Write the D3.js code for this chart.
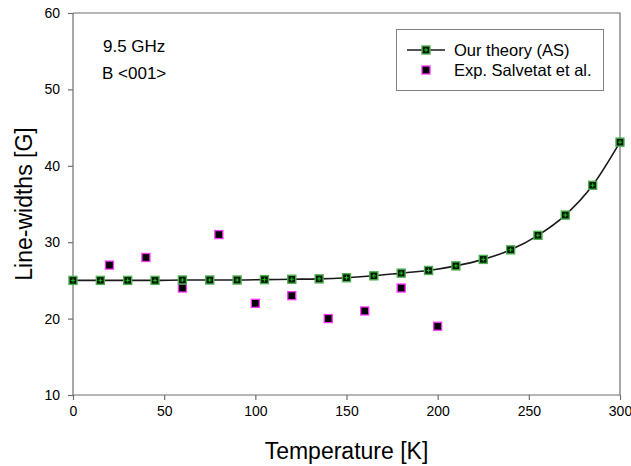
<!DOCTYPE html>
<html>
<head>
<meta charset="utf-8">
<script src="https://cdn.jsdelivr.net/npm/d3@7"></script>
<style>
  body { margin: 0; background: #fff; }
  text { font-family: Arial, "Liberation Sans", sans-serif; fill: #000; }
</style>
</head>
<body>
<svg id="chart"></svg>
<script>
'use strict'

// theory curve (temperature in K, line-width in G)
const theoryT = [0, 15, 30, 45, 60, 75, 90, 105, 120, 135, 150, 165, 180, 195, 210, 225, 240, 255, 270, 285, 300]
const theoryW = [25.0, 25.0, 25.0, 25.0, 25.05, 25.05, 25.05, 25.1, 25.15, 25.2, 25.35, 25.6, 25.95, 26.3, 26.9, 27.75, 29.0, 30.9, 33.55, 37.45, 43.1]

// experimental points (Salvetat et al.)
const expT = [20, 40, 60, 80, 100, 120, 140, 160, 180, 200]
const expW = [27, 28, 24, 31, 22, 23, 20, 21, 24, 19]

const xTicks = [0, 50, 100, 150, 200, 250, 300]
const yTicks = [10, 20, 30, 40, 50, 60]

const width = 631, height = 466
const margins = {top: 13, right: 11, bottom: 71, left: 73}
const chartW = width - margins.left - margins.right
const chartH = height - margins.top - margins.bottom
const axisColor = '#6e6e6e'

const svg = d3.select('#chart').attr('width', width).attr('height', height)
const g = svg.append('g').attr('transform', 'translate(' + margins.left + ',' + margins.top + ')')

const x = d3.scaleLinear().domain([0, 300]).range([0, chartW])
const y = d3.scaleLinear().domain([10, 60]).range([chartH, 0])

// frame (top and right)
g.append('path')
  .attr('d', 'M0,0H' + chartW + 'V' + chartH)
  .attr('fill', 'none').attr('stroke', axisColor).attr('stroke-width', 1.2)

// x axis
const xAxis = g.append('g')
  .attr('transform', 'translate(0,' + chartH + ')')
  .call(d3.axisBottom(x).tickValues(xTicks).tickSize(5).tickPadding(6))
xAxis.selectAll('path, line').attr('stroke', axisColor).attr('stroke-width', 1.2)
xAxis.select('.domain').attr('d', 'M0,0H' + chartW)
xAxis.selectAll('text').style('font-size', '14px').attr('fill', '#000')

// y axis
const yAxis = g.append('g')
  .call(d3.axisLeft(y).tickValues(yTicks).tickSize(5).tickPadding(8))
yAxis.selectAll('path, line').attr('stroke', axisColor).attr('stroke-width', 1.2)
yAxis.select('.domain').attr('d', 'M0,0V' + chartH)
yAxis.selectAll('text').style('font-size', '14px').attr('fill', '#000')

// axis labels
svg.append('text')
  .attr('x', margins.left + chartW / 2).attr('y', 459)
  .attr('text-anchor', 'middle').style('font-size', '23px')
  .text('Temperature [K]')
svg.append('text')
  .attr('transform', 'translate(32,204) rotate(-90)')
  .attr('text-anchor', 'middle').style('font-size', '23px')
  .text('Line-widths [G]')

// annotations
svg.append('text').attr('x', 103).attr('y', 52).style('font-size', '17px').text('9.5 GHz')
svg.append('text').attr('x', 102).attr('y', 79).style('font-size', '17px').text('B <001>')

// theory line
const theory = theoryT.map((t, i) => ({t: t, w: theoryW[i]}))
const line = d3.line().x(d => x(d.t)).y(d => y(d.w)).curve(d3.curveMonotoneX)
g.append('path').datum(theory)
  .attr('d', line).attr('fill', 'none').attr('stroke', '#1a1a1a').attr('stroke-width', 1.6)

// marker helpers
function theoryMarker(sel) {
  sel.append('rect').attr('x', -4).attr('y', -4).attr('width', 8).attr('height', 8)
    .attr('fill', '#031a03').attr('stroke', '#4caf50').attr('stroke-width', 1.4)
  sel.append('path').attr('d', 'M-2,0H2M0,-2V2').attr('stroke', '#1fbf1f').attr('stroke-width', 1)
}
function expMarker(sel) {
  sel.append('rect').attr('x', -4).attr('y', -4).attr('width', 8).attr('height', 8)
    .attr('fill', '#000').attr('stroke', '#ff33ff').attr('stroke-width', 1.3)
}

g.selectAll('.exp').data(expT.map((t, i) => ({t: t, w: expW[i]})))
  .enter().append('g').attr('class', 'exp')
  .attr('transform', d => 'translate(' + x(d.t) + ',' + y(d.w) + ')')
  .call(expMarker)

g.selectAll('.theo').data(theory)
  .enter().append('g').attr('class', 'theo')
  .attr('transform', d => 'translate(' + x(d.t) + ',' + y(d.w) + ')')
  .call(theoryMarker)

// legend
const legend = svg.append('g')
legend.append('rect').attr('x', 396.5).attr('y', 29.5).attr('width', 207).attr('height', 61)
  .attr('fill', '#fff').attr('stroke', '#808080').attr('stroke-width', 1)
legend.append('line').attr('x1', 407).attr('x2', 445).attr('y1', 50).attr('y2', 50)
  .attr('stroke', '#1a1a1a').attr('stroke-width', 1.6)
legend.append('g').attr('transform', 'translate(426,50)').call(theoryMarker)
legend.append('g').attr('transform', 'translate(426,70)').call(expMarker)
legend.append('text').attr('x', 454).attr('y', 56).style('font-size', '16.5px').text('Our theory (AS)')
legend.append('text').attr('x', 454).attr('y', 75.5).style('font-size', '16.5px').text('Exp. Salvetat et al.')
</script>
</body>
</html>
